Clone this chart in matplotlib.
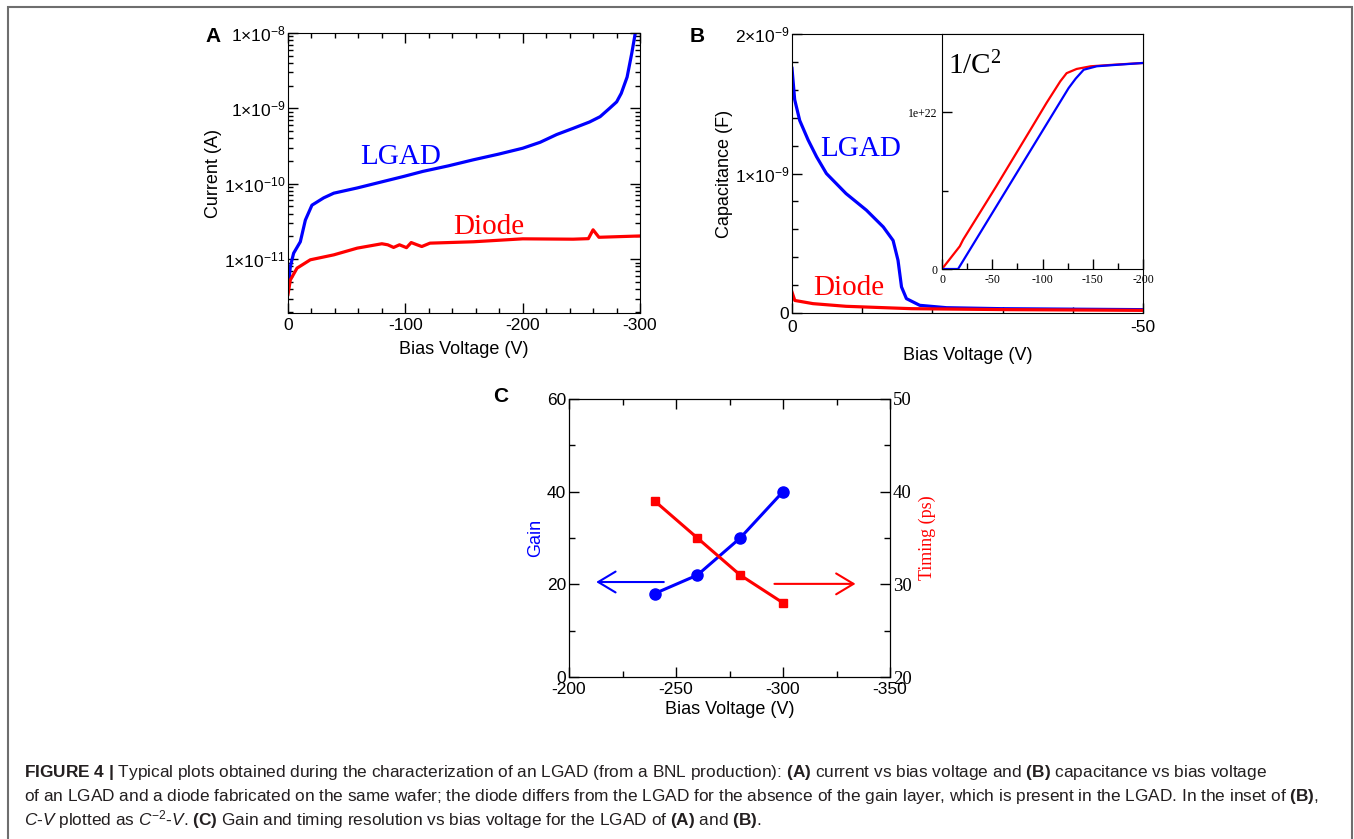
import numpy as np
import matplotlib
matplotlib.use('Agg')
import matplotlib.pyplot as plt
from matplotlib.ticker import MultipleLocator, LogLocator, NullFormatter, FixedLocator
from matplotlib.patches import Rectangle

plt.rcParams['font.family'] = 'Liberation Sans'
plt.rcParams['axes.unicode_minus'] = False
plt.rcParams['mathtext.fontset'] = 'custom'
plt.rcParams['mathtext.rm'] = 'Liberation Sans'
plt.rcParams['mathtext.it'] = 'Liberation Sans:italic'
plt.rcParams['mathtext.bf'] = 'Liberation Sans:bold'
plt.rcParams['mathtext.default'] = 'regular'

# I-V curves (A)
iv_lgad_v = [0, -2, -4.8, -10.5, -14.8, -20.4, -30.4, -39, -59, -81, -98.5, -115,
             -136.8, -158, -179.4, -200, -214.9, -229, -243.2, -257, -266, -274,
             -280.1, -284, -289, -293, -296]
iv_lgad_i = [3.9e-12, 8e-12, 1.2e-11, 1.7e-11, 3.3e-11, 5.2e-11, 6.5e-11, 7.5e-11,
             8.8e-11, 1.07e-10, 1.25e-10, 1.46e-10, 1.73e-10, 2.08e-10, 2.47e-10,
             2.96e-10, 3.55e-10, 4.5e-10, 5.45e-10, 6.6e-10, 7.76e-10, 1.0e-9,
             1.22e-9, 1.58e-9, 2.6e-9, 5.4e-9, 1.0e-8]
iv_diode_v = [0, -2, -7.7, -19, -39, -59, -80, -85, -90, -95, -101, -105, -110,
              -114, -121, -158, -200, -243, -256, -260, -265, -300]
iv_diode_i = [3.4e-12, 5.3e-12, 7.6e-12, 9.8e-12, 1.14e-11, 1.4e-11, 1.6e-11,
              1.55e-11, 1.43e-11, 1.55e-11, 1.42e-11, 1.66e-11, 1.55e-11, 1.47e-11,
              1.63e-11, 1.7e-11, 1.86e-11, 1.84e-11, 1.87e-11, 2.45e-11, 1.95e-11,
              2.03e-11]

# C-V curves (B)
cv_lgad_v = [0, -0.38, -1.1, -2.3, -3.5, -4.9, -7.7, -10.6, -13, -14.4, -15.1,
             -15.6, -16.3, -18.2, -22, -29.8, -50]
cv_lgad_c = [1.754e-9, 1.53e-9, 1.38e-9, 1.24e-9, 1.12e-9, 1.0e-9, 0.856e-9,
             0.737e-9, 0.617e-9, 0.52e-9, 0.378e-9, 0.187e-9, 0.103e-9, 0.055e-9,
             0.038e-9, 0.031e-9, 0.024e-9]
cv_diode_v = [0, -0.4, -3, -7.7, -17, -31, -50]
cv_diode_c = [0.15e-9, 0.09e-9, 0.067e-9, 0.048e-9, 0.031e-9, 0.024e-9, 0.019e-9]

# 1/C^2 inset
invc2_diode_v = [0, -17.7, -21, -54, -88, -104, -117.7, -124, -134, -148, -171, -200]
invc2_diode = [0, 0.145e22, 0.187e22, 0.528e22, 0.889e22, 1.06e22, 1.198e22,
               1.25e22, 1.277e22, 1.294e22, 1.304e22, 1.315e22]
invc2_lgad_v = [0, -16, -60, -100, -126, -133, -141, -154, -171, -200]
invc2_lgad = [0, 0, 0.462e22, 0.882e22, 1.155e22, 1.215e22, 1.272e22, 1.294e22,
              1.302e22, 1.315e22]

# gain / timing (C)
bias = [-240, -260, -280, -300]
gain = [18, 22, 30, 40]
timing = [39, 35, 31, 28]

W, H = 1354, 839
fig = plt.figure(figsize=(W / 100, H / 100), dpi=100)


def box(l, t, r, b):
    return [l / W, 1 - b / H, (r - l) / W, (b - t) / H]


TICK = 12.5
LAB = 13

# ---------------- A ----------------
axA = fig.add_axes(box(288, 33, 640, 313))
axA.plot(iv_lgad_v, iv_lgad_i, color='blue', lw=2.3)
axA.plot(iv_diode_v, iv_diode_i, color='red', lw=2.3)
axA.set_yscale('log')
axA.set_xlim(0, -300)
axA.set_ylim(1.93e-12, 1e-8)
axA.set_xticks([0, -100, -200, -300])
axA.xaxis.set_minor_locator(MultipleLocator(20))
axA.set_yticks([1e-11, 1e-10, 1e-9, 1e-8])
axA.set_yticklabels(['1×10$^{-11}$', '1×10$^{-10}$', '1×10$^{-9}$', '1×10$^{-8}$'])
axA.yaxis.set_minor_locator(LogLocator(base=10, subs=np.arange(2, 10)))
axA.yaxis.set_minor_formatter(NullFormatter())
axA.tick_params(which='both', direction='in', top=True, right=True, labelsize=TICK, width=1)
axA.tick_params(which='major', length=7)
axA.tick_params(which='minor', length=3.5)
axA.tick_params(axis='y', pad=2)
axA.set_xlabel('Bias Voltage (V)', fontsize=LAB, labelpad=6)
axA.set_ylabel('Current (A)', fontsize=LAB, labelpad=1)
axA.text(-96.3, 2.28e-10, 'LGAD', color='blue', family='Liberation Serif', fontsize=21,
         ha='center', va='center')
axA.text(-171.3, 2.69e-11, 'Diode', color='red', family='Liberation Serif', fontsize=21,
         ha='center', va='center')
fig.text(205 / W, 1 - 42 / H, 'A', fontsize=15, fontweight='bold')

# ---------------- B ----------------
axB = fig.add_axes(box(792, 34, 1143, 313))
axB.plot(cv_lgad_v, cv_lgad_c, color='blue', lw=2.3)
axB.plot(cv_diode_v, cv_diode_c, color='red', lw=2.3)
axB.set_xlim(0, -50)
axB.set_ylim(0, 2e-9)
axB.set_xticks([0, -50])
axB.xaxis.set_minor_locator(MultipleLocator(10))
axB.set_yticks([0, 1e-9, 2e-9])
axB.set_yticklabels(['0', '1×10$^{-9}$', '2×10$^{-9}$'])
axB.yaxis.set_minor_locator(MultipleLocator(0.2e-9))
axB.tick_params(which='both', direction='in', labelsize=TICK, width=1)
axB.tick_params(which='major', length=7)
axB.tick_params(which='minor', length=4)
axB.tick_params(axis='y', pad=2)
axB.tick_params(axis='x', pad=5)
axB.set_xlabel('Bias Voltage (V)', fontsize=LAB, labelpad=9)
axB.set_ylabel('Capacitance (F)', fontsize=LAB, labelpad=1)
axB.text(-9.83, 1.176e-9, 'LGAD', color='blue', family='Liberation Serif', fontsize=21,
         ha='center', va='center')
axB.text(-8.12, 0.179e-9, 'Diode', color='red', family='Liberation Serif', fontsize=21,
         ha='center', va='center')
fig.text(690 / W, 1 - 42 / H, 'B', fontsize=15, fontweight='bold')

axI = fig.add_axes(box(942, 34, 1143, 269))
axI.plot(invc2_diode_v, invc2_diode, color='red', lw=1.6)
axI.plot(invc2_lgad_v, invc2_lgad, color='blue', lw=1.6)
axI.set_xlim(0, -200)
axI.set_ylim(0, 1.5e22)
axI.set_xticks([0, -50, -100, -150, -200])
axI.xaxis.set_minor_locator(MultipleLocator(25))
axI.set_yticks([0, 1e22])
axI.set_yticklabels(['0', '1e+22'])
axI.yaxis.set_minor_locator(FixedLocator([0.5e22]))
axI.tick_params(which='both', direction='in', width=1)
axI.tick_params(which='major', length=7)
axI.tick_params(which='minor', length=4)
for lab in axI.get_xticklabels() + axI.get_yticklabels():
    lab.set_family('Liberation Serif')
    lab.set_fontsize(8.5)
axI.text(0.03, 0.83, '1/C$^{2}$', transform=axI.transAxes, family='Liberation Serif',
         fontsize=21, math_fontfamily='dejavuserif')

# ---------------- C ----------------
axC = fig.add_axes(box(569, 399, 890, 677))
axT = axC.twinx()
axC.plot(bias, gain, color='blue', lw=2.2, marker='o', ms=8)
axT.plot(bias, timing, color='red', lw=2.2, marker='s', ms=5.5)
axC.set_xlim(-200, -350)
axC.set_ylim(0, 60)
axT.set_ylim(20, 50)
axC.set_xticks([-200, -250, -300, -350])
axC.xaxis.set_minor_locator(MultipleLocator(25))
axC.set_yticks([0, 20, 40, 60])
axC.yaxis.set_minor_locator(MultipleLocator(10))
axT.set_yticks([20, 30, 40, 50])
axT.yaxis.set_minor_locator(MultipleLocator(5))
axC.tick_params(which='both', direction='in', top=True, labelsize=TICK, width=1)
axC.tick_params(which='major', length=7)
axC.tick_params(which='minor', length=4)
axC.tick_params(axis='y', pad=2)
axT.tick_params(which='both', direction='in', width=1, pad=2)
axT.tick_params(which='major', length=7)
axT.tick_params(which='minor', length=4)
for lab in axT.get_yticklabels():
    lab.set_family('Liberation Serif')
    lab.set_fontsize(13.5)
axC.set_xlabel('Bias Voltage (V)', fontsize=LAB, labelpad=3)
axC.set_ylabel('Gain', fontsize=LAB, color='blue', labelpad=2)
axT.set_ylabel('Timing (ps)', fontsize=13, color='red', family='Liberation Serif', labelpad=5)
axC.annotate('', xy=(-211.4, 20.5), xytext=(-245.6, 20.5),
             arrowprops=dict(arrowstyle='->,head_length=0.5,head_width=0.3',
                             color='blue', lw=1.5, mutation_scale=25))
axC.annotate('', xy=(-335.2, 20.1), xytext=(-294.7, 20.1),
             arrowprops=dict(arrowstyle='->,head_length=0.5,head_width=0.3',
                             color='red', lw=1.5, mutation_scale=25))
fig.text(493 / W, 1 - 402 / H, 'C', fontsize=15, fontweight='bold')

# ---------------- caption ----------------
cap = [
    r'$\mathbf{FIGURE\ 4\ |}$ Typical plots obtained during the characterization of an LGAD '
    r'(from a BNL production): $\mathbf{(A)}$ current vs bias voltage and $\mathbf{(B)}$ '
    r'capacitance vs bias voltage',
    r'of an LGAD and a diode fabricated on the same wafer; the diode differs from the LGAD '
    r'for the absence of the gain layer, which is present in the LGAD. In the inset of '
    r'$\mathbf{(B)}$,',
    r'$\mathit{C}$-$\mathit{V}$ plotted as $\mathit{C}^{-2}$-$\mathit{V}$. $\mathbf{(C)}$ '
    r'Gain and timing resolution vs bias voltage for the LGAD of $\mathbf{(A)}$ and '
    r'$\mathbf{(B)}$.',
]
for line, yb in zip(cap, [777, 801, 825]):
    fig.text(24 / W, 1 - yb / H, line, fontsize=12.4, color='#231f20', va='baseline')

fig.add_artist(Rectangle((8 / W, -0.1), (1352 - 8) / W, 1.1 - 7 / H, fill=False,
                         edgecolor='#6e6e6e', lw=1.5, transform=fig.transFigure))

fig.savefig('out.png', dpi=100)
